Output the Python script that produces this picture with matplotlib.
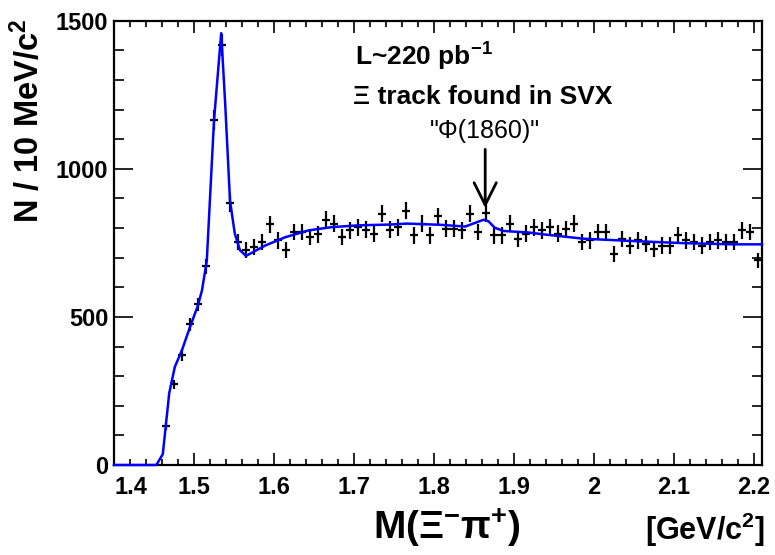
import numpy as np
import matplotlib
matplotlib.use("Agg")
import matplotlib.pyplot as plt
from matplotlib.ticker import MultipleLocator

plt.rcParams['font.family'] = ['Liberation Sans', 'DejaVu Sans']
plt.rcParams['mathtext.default'] = 'regular'

# bin centres (10 MeV bins) and counts
mass = np.round(1.465 + 0.01 * np.arange(75), 3)
counts = [131, 272, 371, 475, 542, 671, 1165, 1418, 883, 752,
          725, 736, 753, 812, 758, 725, 786, 786, 770, 779,
          828, 815, 770, 792, 803, 794, 781, 848, 794, 803,
          859, 775, 815, 775, 839, 798, 798, 792, 848, 786,
          850, 775, 775, 815, 764, 781, 803, 792, 803, 781,
          797, 815, 753, 758, 786, 786, 713, 764, 741, 758,
          747, 730, 741, 741, 775, 758, 753, 741, 753, 758,
          753, 753, 792, 786, 691]

# fitted curve, sampled from the blue line
fit_x = [1.400, 1.453, 1.461, 1.469, 1.476, 1.485, 1.495, 1.505, 1.510, 1.516,
         1.525, 1.534, 1.539, 1.545, 1.551, 1.5575, 1.565, 1.589, 1.614, 1.643,
         1.672, 1.705, 1.747, 1.766, 1.8075, 1.839, 1.849, 1.862, 1.868, 1.876,
         1.887, 1.918, 1.939, 1.987, 2.049, 2.112, 2.174, 2.210]
fit_y = [0, 0, 37, 242, 331, 388, 466, 539, 590, 690,
         1163, 1458, 1219, 893, 781, 725, 706, 741, 769, 792,
         803, 809, 812, 815, 811, 805, 815, 828, 823, 801,
         790, 785, 778, 764, 756, 749, 745, 745]

counts = np.array(counts)
errors = np.sqrt(counts)

fig = plt.figure(figsize=(7.75, 5.55), dpi=100)
ax = fig.add_axes([114 / 775, 1 - 465 / 555, 648 / 775, 444.3 / 555])

ax.errorbar(mass, counts, xerr=0.0045, yerr=errors, fmt='none',
            ecolor='black', elinewidth=1.6, capsize=0, zorder=2)
ax.plot(fit_x, fit_y, color='#0000ff', lw=1.8, zorder=3, clip_on=False)

ax.set_xlim(1.4, 2.21)
ax.set_ylim(0, 1500)
ax.xaxis.set_minor_locator(MultipleLocator(0.02))
ax.yaxis.set_major_locator(MultipleLocator(500))
ax.yaxis.set_minor_locator(MultipleLocator(100))
ax.set_xticks(np.arange(1.4, 2.21, 0.1))
ax.set_xticklabels(['1.4', '1.5', '1.6', '1.7', '1.8', '1.9', '2', '2.1', '2.2'])

for sp in ax.spines.values():
    sp.set_linewidth(1.6)
ax.tick_params(which='both', direction='in', top=True, right=True, width=1.2)
ax.tick_params(axis='x', which='major', length=8.5, pad=8, labelsize=17)
ax.tick_params(axis='x', which='minor', length=4.3)
ax.tick_params(axis='y', which='major', length=13.5, pad=4, labelsize=17)
ax.tick_params(axis='y', which='minor', length=7.2)
for lab in ax.get_xticklabels() + ax.get_yticklabels():
    lab.set_fontweight('bold')
# first x label sits right of its tick, as in the original
ax.get_xticklabels()[0].set_horizontalalignment('left')

ax.text(1.701, 1350, 'L~220 pb$^{-1}$', fontsize=19, fontweight='bold')
ax.text(1.699, 1218, 'Ξ track found in SVX', fontsize=19, fontweight='bold')
ax.text(1.864, 1105, '"Φ(1860)"', fontsize=18, ha='center')
ax.annotate('', xy=(1.864, 858), xytext=(1.864, 1075),
            arrowprops=dict(arrowstyle='->,head_length=0.8,head_width=0.4',
                            lw=2.0, color='black', mutation_scale=20))

fig.text(28 / 775, 1 - 19 / 555, 'N / 10 MeV/c$^{2}$', rotation=90,
         ha='center', va='top', fontsize=23.5, fontweight='bold')
fig.text(447 / 775, 1 - 528 / 555, 'M(Ξ$^{-}$π$^{+}$)', ha='center', va='center',
         fontsize=28, fontweight='bold')
fig.text(765 / 775, 1 - 530 / 555, '[GeV/c$^{2}$]', ha='right', va='center',
         fontsize=22, fontweight='bold')

fig.savefig('out.png', dpi=100)
